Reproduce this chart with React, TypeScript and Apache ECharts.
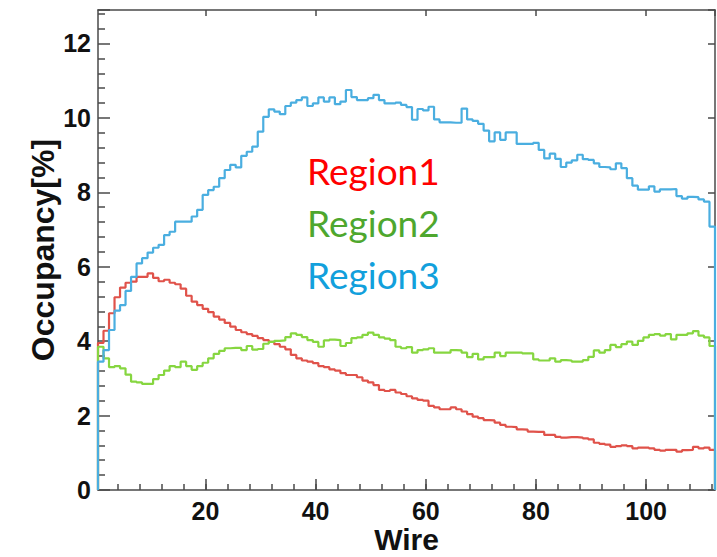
import React, { useEffect, useRef } from "react";
import * as echarts from "echarts";

// Wire numbers 1..112 (histogram bin centres)
const wires: number[] = Array.from({ length: 112 }, (_, i) => i + 1);

const region1: number[] = [
  3.95, 4.28, 4.75, 5.18, 5.44, 5.57, 5.6, 5.73, 5.73, 5.82,
  5.7, 5.61, 5.65, 5.57, 5.53, 5.41, 5.22, 5.06, 4.97, 4.87,
  4.78, 4.66, 4.58, 4.49, 4.39, 4.3, 4.24, 4.19, 4.14, 4.08,
  4.03, 3.98, 3.92, 3.85, 3.78, 3.63, 3.54, 3.48, 3.45, 3.41,
  3.33, 3.3, 3.24, 3.21, 3.14, 3.09, 3.09, 3.03, 2.94, 2.89,
  2.82, 2.69, 2.66, 2.69, 2.62, 2.58, 2.52, 2.46, 2.42, 2.4,
  2.26, 2.22, 2.17, 2.17, 2.22, 2.17, 2.11, 2.04, 1.97, 1.93,
  1.88, 1.87, 1.81, 1.75, 1.7, 1.69, 1.63, 1.62, 1.57, 1.56,
  1.56, 1.48, 1.48, 1.43, 1.41, 1.42, 1.42, 1.41, 1.39, 1.36,
  1.27, 1.24, 1.22, 1.16, 1.18, 1.2, 1.18, 1.12, 1.14, 1.14,
  1.12, 1.08, 1.06, 1.08, 1.08, 1.03, 1.07, 1.08, 1.16, 1.12, 1.14, 1.08,
];

const region2: number[] = [
  3.85, 3.54, 3.3, 3.33, 3.27, 3.1, 2.91, 2.89, 2.85, 2.85,
  2.98, 3.09, 3.21, 3.33, 3.3, 3.45, 3.33, 3.23, 3.33, 3.42,
  3.54, 3.66, 3.74, 3.81, 3.82, 3.82, 3.76, 3.87, 3.77, 3.79,
  3.93, 3.98, 4.01, 4.02, 4.11, 4.21, 4.17, 4.11, 4.03, 3.98,
  3.85, 4.02, 4.04, 4.03, 3.87, 3.95, 4.08, 4.1, 4.17, 4.23,
  4.17, 4.1, 4.07, 4.03, 3.85, 3.81, 3.84, 3.69, 3.76, 3.78,
  3.81, 3.69, 3.69, 3.69, 3.76, 3.75, 3.69, 3.57, 3.66, 3.51,
  3.57, 3.57, 3.69, 3.6, 3.69, 3.69, 3.69, 3.67, 3.67, 3.51,
  3.48, 3.48, 3.54, 3.45, 3.49, 3.48, 3.45, 3.45, 3.49, 3.58,
  3.75, 3.69, 3.76, 3.9, 3.84, 3.92, 3.99, 3.9, 4.01, 4.1,
  4.17, 4.19, 4.15, 4.19, 4.05, 4.17, 4.17, 4.21, 4.27, 4.15, 4.1, 3.87,
];

const region3: number[] = [
  3.45, 3.76, 4.3, 4.82, 4.97, 5.35, 5.73, 6.09, 6.23, 6.38,
  6.51, 6.59, 6.85, 6.94, 7.21, 7.21, 7.21, 7.35, 7.53, 7.93,
  8.06, 8.15, 8.38, 8.6, 8.74, 8.67, 8.98, 9.09, 9.23, 9.63,
  10.03, 10.23, 10.17, 10.1, 10.32, 10.41, 10.48, 10.55, 10.32, 10.39,
  10.55, 10.44, 10.55, 10.37, 10.44, 10.75, 10.56, 10.48, 10.48, 10.53,
  10.62, 10.48, 10.39, 10.39, 10.41, 10.35, 10.29, 9.95, 10.24, 10.2,
  10.3, 9.96, 9.88, 9.88, 9.87, 9.87, 10.25, 9.96, 9.92, 9.84,
  9.66, 9.37, 9.61, 9.41, 9.61, 9.61, 9.3, 9.3, 9.3, 9.33,
  9.14, 8.91, 9.04, 8.9, 8.68, 8.8, 8.86, 9.01, 8.89, 8.87,
  8.78, 8.68, 8.67, 8.62, 8.78, 8.65, 8.38, 8.18, 8.07, 8.07,
  8.16, 8.02, 8.08, 8.08, 8.09, 7.9, 7.83, 7.88, 7.87, 7.81, 7.75, 7.08,
];

const seriesNames: string[] = ["Region1", "Region2", "Region3"];
const lineColors: string[] = ["#e0524a", "#86d640", "#4aaee0"];
const textColors: string[] = ["#ff0000", "#4ea72e", "#12a0dc"];

// tick settings (first labelled wire tick, spacing of labelled / small ticks)
const X_LABEL_START = 20;
const X_LABEL_STEP = 20;
const X_MINOR_START = 4;
const X_MINOR_STEP = 4;
const Y_STEP = 2;

const X_MIN = 0.5;
const X_MAX = 112.5;
const Y_MIN = 0;
const Y_MAX = 12.9;

const W = 717;
const GRID_LEFT = 98;
const GRID_RIGHT = 2;
const GRID_TOP = 10;
const GRID_BOTTOM = 67;

// histogram outline: left bin edges, step "end"; drops to zero at both ends
function histPoints(values: number[]): number[][] {
  const pts: number[][] = [[wires[0] - 0.5, 0]];
  wires.forEach((w, i) => pts.push([w - 0.5, values[i]]));
  const lastW = wires[wires.length - 1];
  pts.push([lastW + 0.5, values[values.length - 1]]);
  pts.push([lastW + 0.5, 0]);
  return pts;
}

export default function App() {
  const ref = useRef<HTMLDivElement>(null);

  useEffect(() => {
    if (!ref.current) return;
    const chart = echarts.init(ref.current, undefined, { renderer: "svg" });

    const frameColor = "#4a4a4a";
    const tickLine = { color: frameColor, width: 1.5 };
    const labelFont = {
      fontFamily: "Liberation Sans",
      fontWeight: "bold" as const,
      color: "#111",
    };

    // pixel scale of the data grid, used to align helper grids carrying the ticks
    const pxPerUnit = (W - GRID_LEFT - GRID_RIGHT) / (X_MAX - X_MIN);
    const leftFor = (v: number) => GRID_LEFT + (v - X_MIN) * pxPerUnit;

    const base = {
      right: GRID_RIGHT,
      top: GRID_TOP,
      bottom: GRID_BOTTOM,
      outerBoundsMode: "none",
      containLabel: false,
    };
    const hiddenY = (gridIndex: number) => ({
      type: "value",
      gridIndex,
      min: Y_MIN,
      max: Y_MAX,
      show: false,
    });

    const allData = [region1, region2, region3];

    chart.setOption({
      animation: false,
      backgroundColor: "#ffffff",
      grid: [
        { left: GRID_LEFT, ...base },
        { left: leftFor(X_LABEL_START), ...base },
        { left: leftFor(X_MINOR_START), ...base },
      ],
      xAxis: [
        // data axis (frame bottom)
        {
          type: "value",
          gridIndex: 0,
          position: "bottom",
          min: X_MIN,
          max: X_MAX,
          name: "Wire",
          nameLocation: "middle",
          nameGap: 34,
          nameMoveOverlap: false,
          nameTextStyle: { ...labelFont, fontSize: 30 },
          axisLine: { show: true, onZero: false, lineStyle: tickLine },
          axisTick: { show: false },
          axisLabel: { show: false },
          splitLine: { show: false },
        },
        // frame top
        {
          type: "value",
          gridIndex: 0,
          position: "top",
          min: X_MIN,
          max: X_MAX,
          axisLine: { show: true, onZero: false, lineStyle: tickLine },
          axisTick: { show: false },
          axisLabel: { show: false },
          splitLine: { show: false },
        },
        // labelled ticks, bottom
        {
          type: "value",
          gridIndex: 1,
          position: "bottom",
          min: X_LABEL_START,
          max: X_MAX,
          interval: X_LABEL_STEP,
          axisLine: { show: false, onZero: false },
          axisTick: { show: true, inside: true, length: 11, lineStyle: tickLine },
          axisLabel: { ...labelFont, fontSize: 25, margin: 8, showMaxLabel: false },
          splitLine: { show: false },
        },
        // labelled ticks, top
        {
          type: "value",
          gridIndex: 1,
          position: "top",
          min: X_LABEL_START,
          max: X_MAX,
          interval: X_LABEL_STEP,
          axisLine: { show: false, onZero: false },
          axisTick: { show: true, inside: true, length: 6, lineStyle: tickLine },
          axisLabel: { show: false },
          splitLine: { show: false },
        },
        // small ticks, bottom
        {
          type: "value",
          gridIndex: 2,
          position: "bottom",
          min: X_MINOR_START,
          max: X_MAX,
          interval: X_MINOR_STEP,
          axisLine: { show: false, onZero: false },
          axisTick: { show: true, inside: true, length: 6, lineStyle: tickLine },
          axisLabel: { show: false },
          splitLine: { show: false },
        },
      ],
      yAxis: [
        {
          type: "value",
          gridIndex: 0,
          position: "left",
          min: Y_MIN,
          max: Y_MAX,
          interval: Y_STEP,
          name: "Occupancy[%]",
          nameLocation: "middle",
          nameGap: 39,
          nameMoveOverlap: false,
          nameRotate: 90,
          nameTextStyle: { ...labelFont, fontSize: 32 },
          axisLine: { show: true, onZero: false, lineStyle: tickLine },
          axisTick: { show: true, inside: true, length: 12, lineStyle: tickLine },
          minorTick: { show: true, splitNumber: 5, length: 7, lineStyle: tickLine },
          axisLabel: { ...labelFont, fontSize: 25, margin: 7, showMaxLabel: false },
          splitLine: { show: false },
          minorSplitLine: { show: false },
        },
        {
          type: "value",
          gridIndex: 0,
          position: "right",
          min: Y_MIN,
          max: Y_MAX,
          interval: Y_STEP,
          axisLine: { show: true, onZero: false, lineStyle: tickLine },
          axisTick: { show: true, inside: true, length: 7, lineStyle: tickLine },
          axisLabel: { show: false },
          splitLine: { show: false },
        },
        hiddenY(1),
        hiddenY(2),
      ],
      series: allData.map((vals, i) => ({
        name: seriesNames[i],
        type: "line",
        xAxisIndex: 0,
        yAxisIndex: 0,
        step: "end",
        showSymbol: false,
        symbol: "none",
        clip: false,
        data: histPoints(vals),
        lineStyle: { color: lineColors[i], width: 2.2 },
        z: 2 + i,
      })),
      graphic: seriesNames.map((name, i) => ({
        type: "text",
        left: 307,
        top: 152 + i * 52,
        style: {
          text: name,
          fill: textColors[i],
          font: "37px Lato",
        },
      })),
    });

    return () => chart.dispose();
  }, []);

  return (
    <div
      ref={ref}
      style={{ position: "fixed", left: 0, top: 0, width: 717, height: 557 }}
    />
  );
}
